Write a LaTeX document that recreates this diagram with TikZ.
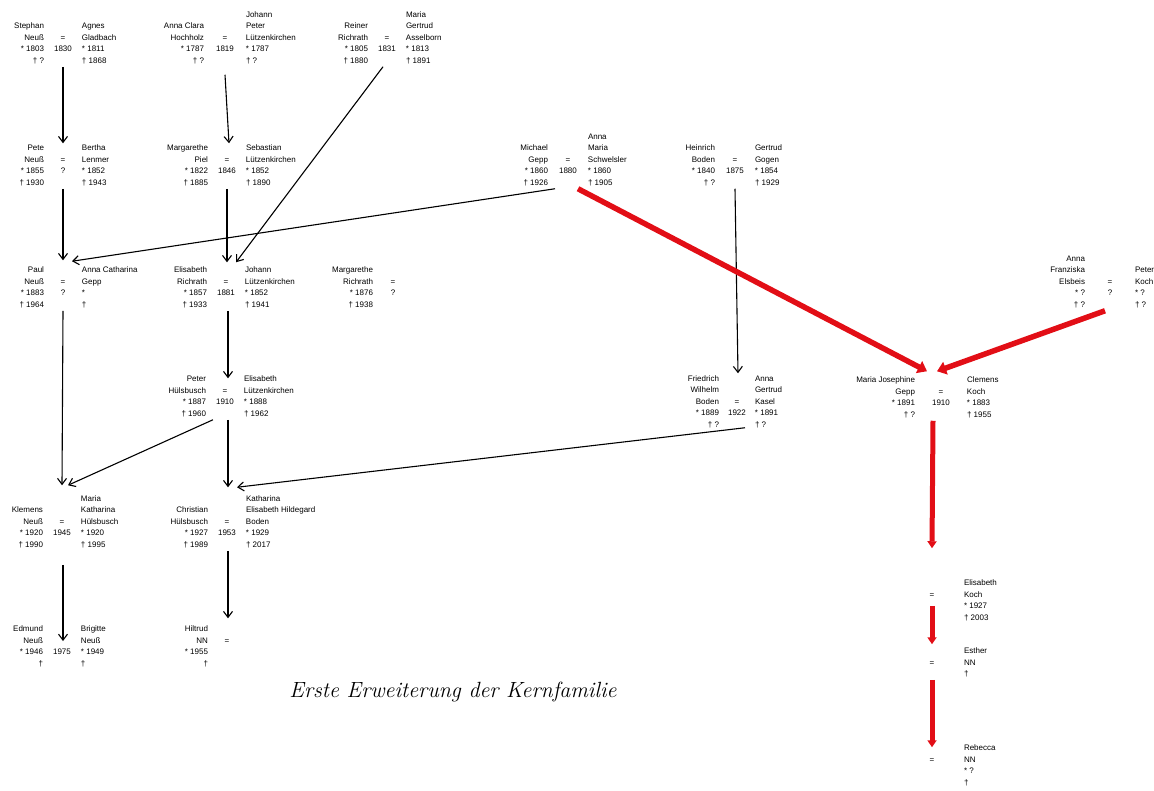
\documentclass[tikz,border=0pt]{standalone}
\usepackage{fontspec}
\setsansfont{Liberation Sans}
\usepackage{array}
\usetikzlibrary{arrows.meta}
\definecolor{redc}{RGB}{226,14,22}
\newcommand\bx{\mbox{*}\ }
\newcommand\cpl[2][38pt]{{\sffamily\fontsize{8}{11.5}\selectfont\begin{tabular}{@{}>{\raggedleft\arraybackslash}p{90pt}@{}>{\centering\arraybackslash}p{#1}@{}>{\raggedright\arraybackslash}p{90pt}@{}}#2\end{tabular}}}
\tikzset{
  cp/.style={inner sep=0pt, outer sep=0pt, anchor=center},
  ar/.style={draw, line width=1.1pt, -{Straight Barb[length=6pt,width=9pt]}},
  rd/.style={draw=redc, line width=5.5pt, -{Triangle[length=9pt,width=13pt]}},
  rv/.style={draw=redc, line width=5pt, -{Triangle[length=7pt,width=9pt]}},
  capt/.style={font=\fontsize{22}{26}\selectfont\itshape}
}
\begin{document}
\begin{tikzpicture}[x=1pt,y=-1pt]
\useasboundingbox (0,0) rectangle (1154,790);
% row 1
\node[cp] (c1) at (63,38) {\cpl{ & & \\ Stephan & & Agnes\\ Neuß & = & Gladbach\\ \bx 1803 & 1830 & \bx 1811\\ † ? & & † 1868}};
\node[cp] (c2) at (225,38) {\cpl[42pt]{ & & Johann\\ Anna Clara & & Peter\\ Hochholz & = & Lützenkirchen\\ \bx 1787 & 1819 & \bx 1787\\ † ? & & † ?}};
\node[cp] (c3) at (387,38) {\cpl{ & & Maria\\ Reiner & & Gertrud\\ Richrath & = & Asselborn\\ \bx 1805 & 1831 & \bx 1813\\ † 1880 & & † 1891}};
% row 2
\node[cp] (c4) at (63,160) {\cpl{ & & \\ Pete & & Bertha\\ Neuß & = & Lenmer\\ \bx 1855 & ? & \bx 1852\\ † 1930 & & † 1943}};
\node[cp] (c5) at (227,160) {\cpl{ & & \\ Margarethe & & Sebastian\\ Piel & = & Lützenkirchen\\ \bx 1822 & 1846 & \bx 1852\\ † 1885 & & † 1890}};
\node[cp] (c6) at (568,160) {\cpl[40pt]{ & & Anna\\ Michael & & Maria\\ Gepp & = & Schwelsler\\ \bx 1860 & 1880 & \bx 1860\\ † 1926 & & † 1905}};
\node[cp] (c7) at (735,160) {\cpl[40pt]{ & & \\ Heinrich & & Gertrud\\ Boden & = & Gogen\\ \bx 1840 & 1875 & \bx 1854\\ † ? & & † 1929}};
% row 3
\node[cp] (c8) at (63,282) {\cpl{ & & \\ Paul & & Anna Catharina\\ Neuß & = & Gepp\\ \bx 1883 & ? & \mbox{*}\\ † 1964 & & †}};
\node[cp] (c9) at (226,282) {\cpl{ & & \\ Elisabeth & & Johann\\ Richrath & = & Lützenkirchen\\ \bx 1857 & 1881 & \bx 1852\\ † 1933 & & † 1941}};
\node[cp] (c10) at (393,282) {\cpl[40pt]{ & & \\ Margarethe & & \\ Richrath & = & \\ \bx 1876 & ? & \\ † 1938 & & }};
\node[cp] (c18) at (1110,282) {\cpl[50pt]{Anna & & \\ Franziska & & Peter\\ Elsbeis & = & Koch\\ \bx ? & ? & \bx ?\\ † ? & & † ?}};
% row 4
\node[cp] (c11) at (225,391) {\cpl{ & & \\ Peter & & Elisabeth\\ Hülsbusch & = & Lützenkirchen\\ \bx 1887 & 1910 & \bx 1888\\ † 1960 & & † 1962}};
\node[cp] (c12) at (737,402) {\cpl[36pt]{Friedrich & & Anna\\ Wilhelm & & Gertrud\\ Boden & = & Kasel\\ \bx 1889 & 1922 & \bx 1891\\ † ? & & † ?}};
\node[cp] (c17) at (941,392) {\cpl[52pt]{ & & \\ Maria Josephine & & Clemens\\ Gepp & = & Koch\\ \bx 1891 & 1910 & \bx 1883\\ † ? & & † 1955}};
% row 5
\node[cp] (c13) at (62,522) {\cpl{ & & Maria\\ Klemens & & Katharina\\ Neuß & = & Hülsbusch\\ \bx 1920 & 1945 & \bx 1920\\ † 1990 & & † 1995}};
\node[cp] (c14) at (227,522) {\cpl{ & & Katharina\\ Christian & & Elisabeth Hildegard\\ Hülsbusch & = & Boden\\ \bx 1927 & 1953 & \bx 1929\\ † 1989 & & † 2017}};
% row 6
\node[cp] (c15) at (62,641) {\cpl{ & & \\ Edmund & & Brigitte\\ Neuß & & Neuß\\ \bx 1946 & 1975 & \bx 1949\\ † & & †}};
\node[cp] (c16) at (227,641) {\cpl{ & & \\ Hiltrud & & \\ NN & = & \\ \bx 1955 & & \\ † & & }};
% right column
\node[cp] (c19) at (932,595) {\cpl[64pt]{ & & \\ & & Elisabeth\\ & = & Koch\\ & & \bx 1927\\ & & † 2003}};
\node[cp] (c20) at (932,663) {\cpl[64pt]{ & & \\ & & Esther\\ & = & NN\\ & & †\\ & & }};
\node[cp] (c21) at (932,760) {\cpl[64pt]{ & & \\ & & Rebecca\\ & = & NN\\ & & \bx ?\\ & & †}};
% caption
\node[capt] (cap) at (453,692) {Erste Erweiterung der Kernfamilie};
% black connectors
\draw[ar] (c1.south) -- ([yshift=-12pt]c4.north);
\draw[ar] ([yshift=-8pt]c2.south) -- ([xshift=2pt,yshift=-12pt]c5.north);
\draw[ar] ([xshift=-4pt]c3.south) -- ([xshift=10pt,yshift=-9pt]c9.north);
\draw[ar] (c4.south) -- ([yshift=-7pt]c8.north);
\draw[ar] (c5.south) -- ([xshift=1pt,yshift=-9pt]c9.north);
\draw[ar] ([xshift=-13pt]c6.south) -- ([xshift=9pt,yshift=-8pt]c8.north);
\draw[ar] (c7.south) -- ([xshift=1pt]c12.north);
\draw[ar] (c8.south) -- ([yshift=8pt]c13.north);
\draw[ar] ([xshift=2pt]c9.south) -- ([xshift=3pt,yshift=-16pt]c11.north);
\draw[ar] ([xshift=-12pt]c11.south) -- ([xshift=6pt,yshift=8pt]c13.north);
\draw[ar] ([xshift=3pt]c11.south) -- ([xshift=1pt,yshift=6pt]c14.north);
\draw[ar] ([xshift=8pt,yshift=3pt]c12.south) -- ([xshift=10pt,yshift=6pt]c14.north);
\draw[ar] ([xshift=1pt,yshift=-14pt]c13.south) -- ([xshift=1pt]c15.center);
\draw[ar] ([xshift=1pt]c14.south) -- ([xshift=1pt,yshift=-6pt]c16.north);
% red connectors
\draw[rd] ([xshift=10pt]c6.south) -- ([xshift=-14pt,yshift=-8pt]c17.north);
\draw[rd] ([xshift=-5pt]c18.south) -- ([xshift=-4pt,yshift=-8pt]c17.north);
\draw[rv] ([xshift=-8pt]c17.south) -- ([yshift=18pt]c19.north);
\draw[rv] ([yshift=18pt]c19.south) -- ([yshift=-10pt]c20.north);
\draw[rv] ([yshift=12pt]c20.south) -- ([yshift=-16pt]c21.north);
\end{tikzpicture}
\end{document}
